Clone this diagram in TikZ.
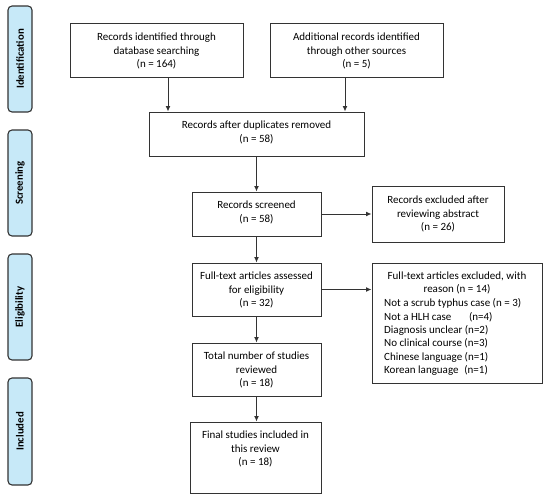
\documentclass[tikz,border=0pt]{standalone}
\usepackage{fontspec}
\setmainfont{Carlito}
\usetikzlibrary{arrows.meta}
\definecolor{edge}{HTML}{333333}
\definecolor{phase}{HTML}{C7E9F8}
\tikzset{
  box/.style={draw=edge, line width=1pt, rectangle, inner sep=0pt},
  txt/.style={align=center, font=\fontsize{11}{13.4}\selectfont, inner sep=0pt, text=black},
  phasebox/.style={draw=edge, line width=1.1pt, fill=phase, rounded corners=4pt, inner sep=0pt},
  phasetxt/.style={font=\bfseries\fontsize{10.8}{12}\selectfont, rotate=90, inner sep=0pt},
  arr/.style={draw=edge, line width=1pt, -{Latex[length=5.5pt,width=5pt]}}
}
\begin{document}
\begin{tikzpicture}[x=1pt,y=-1pt]
\useasboundingbox (0,0) rectangle (550,499);
% phase labels
\node[phasebox, minimum width=24pt, minimum height=106pt] (pid) at (20,59) {};
\node[phasetxt] (tid) at (pid) {Identification};
\node[phasebox, minimum width=24pt, minimum height=106pt] (psc) at (20,183) {};
\node[phasetxt] (tsc) at (psc) {Screening};
\node[phasebox, minimum width=24pt, minimum height=106pt] (pel) at (20,307) {};
\node[phasetxt] (tel) at (pel) {Eligibility};
\node[phasebox, minimum width=24pt, minimum height=107pt] (pin) at (20,431.5) {};
\node[phasetxt] (tin) at (pin) {Included};
% boxes
\node[box, minimum width=173pt, minimum height=54pt] (b1) at (156.5,50) {};
\node[txt] (t1) at (156.5,51) {Records identified through\\database searching\\(n = 164)};
\node[box, minimum width=173pt, minimum height=54pt] (b2) at (356.5,50) {};
\node[txt] (t2) at (356.5,51) {Additional records identified\\through other sources\\(n = 5)};
\node[box, minimum width=215pt, minimum height=44pt] (b3) at (256.5,134) {};
\node[txt] (t3) at (256.5,132.5) {Records after duplicates removed\\(n = 58)};
\node[box, minimum width=129pt, minimum height=44pt] (b4) at (256.5,214) {};
\node[txt] (t4) at (256.5,212.5) {Records screened\\(n = 58)};
\node[box, minimum width=132pt, minimum height=56pt] (b5) at (438,214) {};
\node[txt] (t5) at (438,214) {Records excluded after\\reviewing abstract\\(n = 26)};
\node[box, minimum width=129pt, minimum height=53pt] (b6) at (256.5,289.5) {};
\node[txt] (t6) at (256.5,290) {Full-text articles assessed\\for eligibility\\(n = 32)};
\node[box, minimum width=170pt, minimum height=120pt] (b7) at (457,323) {};
\node[txt, anchor=north] (t7a) at (457,271.5) {Full-text articles excluded, with\\reason (n = 14)};
\node[txt, align=left, anchor=north west] (t7b) at (384,298.5) {Not a scrub typhus case (n = 3)\\Not a HLH case\hspace{1.6em}(n=4)\\Diagnosis unclear (n=2)\\No clinical course (n=3)\\Chinese language (n=1)\\Korean language\hspace{0.3em} (n=1)};
\node[box, minimum width=129pt, minimum height=53pt] (b8) at (256.5,369.5) {};
\node[txt] (t8) at (256.5,370) {Total number of studies\\reviewed\\(n = 18)};
\node[box, minimum width=131pt, minimum height=71pt] (b9) at (255.5,457.5) {};
\node[txt] (t9) at (255.5,449) {Final studies included in\\this review\\(n = 18)};
% connectors
\draw[arr] (b1.south -| 168,0) -- (b3.north -| 168,0);
\draw[arr] (b2.south -| 345,0) -- (b3.north -| 345,0);
\draw[arr] (b3) -- (b4);
\draw[arr] (b4) -- (b5);
\draw[arr] (b6.east) -- (b7.west |- b6.east);
\draw[arr] (b4) -- (b6);
\draw[arr] (b6) -- (b8);
\draw[arr] (b8.south) -- (b9.north -| b8.south);
\end{tikzpicture}
\end{document}
